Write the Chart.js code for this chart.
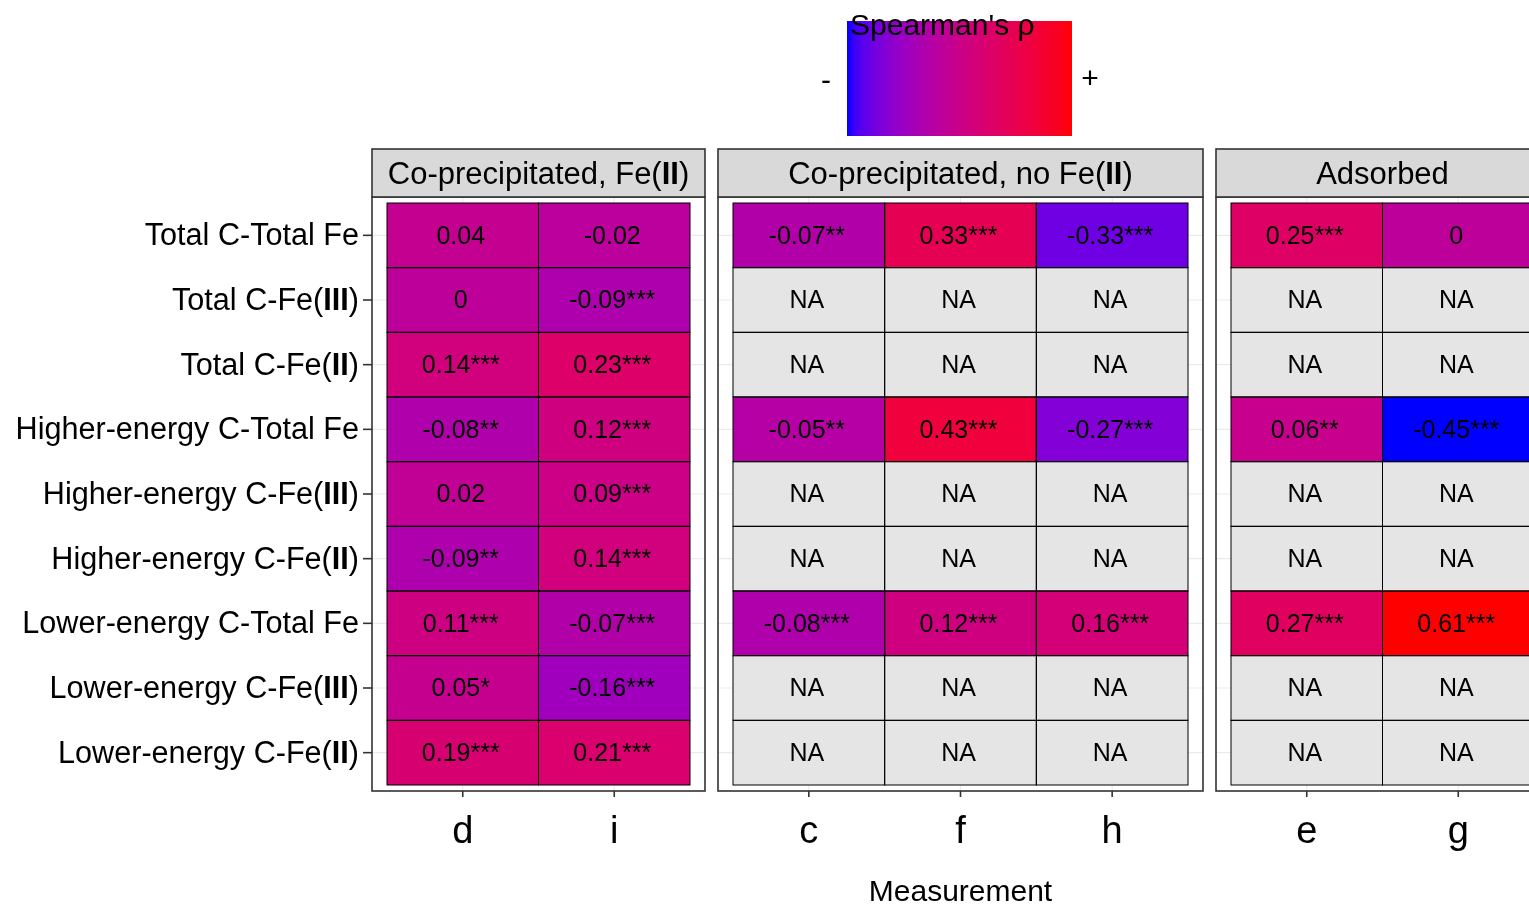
<!DOCTYPE html>
<html>
<head>
<meta charset="utf-8">
<script src="https://cdn.jsdelivr.net/npm/chart.js@4.4.0/dist/chart.umd.min.js"></script>
<style>
html, body { margin: 0; padding: 0; background: #fff; overflow: hidden; }
#wrap { position: relative; width: 1529px; height: 904px; overflow: hidden; }
canvas { position: absolute; left: 0; top: 0; }
</style>
</head>
<body>
<div id="wrap">
<canvas id="p1" width="1560" height="904"></canvas>
<canvas id="p2" width="1560" height="904"></canvas>
<canvas id="p3" width="1560" height="904"></canvas>
</div>
<script>
var rowLabels = [
  "Total C-Total Fe", "Total C-Fe(III)", "Total C-Fe(II)",
  "Higher-energy C-Total Fe", "Higher-energy C-Fe(III)", "Higher-energy C-Fe(II)",
  "Lower-energy C-Total Fe", "Lower-energy C-Fe(III)", "Lower-energy C-Fe(II)"
];
var stripLabels = ["Co-precipitated, Fe(II)", "Co-precipitated, no Fe(II)", "Adsorbed"];
var colsCoFe2 = ["d", "i"];
var colsCoNoFe2 = ["c", "f", "h"];
var colsAds = ["e", "g"];

// spearman rho per measurement (top row to bottom row), null = NA
var rho_d = [0.04, 0, 0.14, -0.08, 0.02, -0.09, 0.11, 0.05, 0.19];
var sig_d = ["", "", "***", "**", "", "**", "***", "*", "***"];
var rho_i = [-0.02, -0.09, 0.23, 0.12, 0.09, 0.14, -0.07, -0.16, 0.21];
var sig_i = ["", "***", "***", "***", "***", "***", "***", "***", "***"];
var rho_c = [-0.07, null, null, -0.05, null, null, -0.08, null, null];
var sig_c = ["**", "", "", "**", "", "", "***", "", ""];
var rho_f = [0.33, null, null, 0.43, null, null, 0.12, null, null];
var sig_f = ["***", "", "", "***", "", "", "***", "", ""];
var rho_h = [-0.33, null, null, -0.27, null, null, 0.16, null, null];
var sig_h = ["***", "", "", "***", "", "", "***", "", ""];
var rho_e = [0.25, null, null, 0.06, null, null, 0.27, null, null];
var sig_e = ["***", "", "", "**", "", "", "***", "", ""];
var rho_g = [0, null, null, -0.45, null, null, 0.61, null, null];
var sig_g = ["", "", "", "***", "", "", "***", "", ""];

var legendTitle = "Spearman's \u03c1";
var legendEnds = ["-", "+"];

var FONT = '"Liberation Sans", Arial, Helvetica, sans-serif';
var W = 1560;
var naColor = "#e5e5e5";

var allRho = [].concat(rho_d, rho_i, rho_c, rho_f, rho_h, rho_e, rho_g).filter(function (v) { return v !== null; });
var rhoMin = Math.min.apply(null, allRho);
var rhoMax = Math.max.apply(null, allRho);

// blue -> red in Lab space, like ggplot's gradient
function toLin(c) { c /= 255; return c <= 0.04045 ? c / 12.92 : Math.pow((c + 0.055) / 1.055, 2.4); }
function toSrgb(c) {
  var v = c <= 0.0031308 ? 12.92 * c : 1.055 * Math.pow(c, 1 / 2.4) - 0.055;
  return Math.round(Math.max(0, Math.min(1, v)) * 255);
}
function rgbToLab(r, g, b) {
  r = toLin(r); g = toLin(g); b = toLin(b);
  var X = (0.4124 * r + 0.3576 * g + 0.1805 * b) / 0.95047;
  var Y = 0.2126 * r + 0.7152 * g + 0.0722 * b;
  var Z = (0.0193 * r + 0.1192 * g + 0.9505 * b) / 1.08883;
  var f = function (t) { return t > 0.008856 ? Math.cbrt(t) : 7.787 * t + 16 / 116; };
  var fx = f(X), fy = f(Y), fz = f(Z);
  return [116 * fy - 16, 500 * (fx - fy), 200 * (fy - fz)];
}
function labToRgb(L, a, b) {
  var fy = (L + 16) / 116, fx = fy + a / 500, fz = fy - b / 200;
  var fi = function (t) { var t3 = t * t * t; return t3 > 0.008856 ? t3 : (t - 16 / 116) / 7.787; };
  var X = fi(fx) * 0.95047, Y = fi(fy), Z = fi(fz) * 1.08883;
  var r = 3.2406 * X - 1.5372 * Y - 0.4986 * Z;
  var g = -0.9689 * X + 1.8758 * Y + 0.0415 * Z;
  var bb = 0.0557 * X - 0.2040 * Y + 1.0570 * Z;
  return "rgb(" + toSrgb(r) + "," + toSrgb(g) + "," + toSrgb(bb) + ")";
}
var labLow = rgbToLab(0, 0, 255);
var labHigh = rgbToLab(255, 0, 0);
function rampColor(t) {
  t = Math.max(0, Math.min(1, t));
  return labToRgb(labLow[0] + (labHigh[0] - labLow[0]) * t,
                  labLow[1] + (labHigh[1] - labLow[1]) * t,
                  labLow[2] + (labHigh[2] - labLow[2]) * t);
}
function fillFor(v) {
  if (v === null) return naColor;
  return rampColor((v - rhoMin) / (rhoMax - rhoMin));
}

function drawRich(ctx, text, x, y, size, align) {
  var parts = text.split(/(I+)(?=\))/);
  var widths = parts.map(function (p, k) {
    ctx.font = (k % 2 ? "bold " : "") + size + "px " + FONT;
    return ctx.measureText(p).width;
  });
  var total = widths.reduce(function (a, b) { return a + b; }, 0);
  var cx = align === "right" ? x - total : (align === "center" ? x - total / 2 : x);
  ctx.textAlign = "left";
  ctx.textBaseline = "middle";
  ctx.fillStyle = "#000";
  parts.forEach(function (p, k) {
    ctx.font = (k % 2 ? "bold " : "") + size + "px " + FONT;
    ctx.fillText(p, cx, y);
    cx += widths[k];
  });
}

function frameOf(ca) {
  return { l: ca.left - 15, r: ca.right + 15, t: ca.top - 6, b: ca.bottom + 6 };
}

function line(ctx, x1, y1, x2, y2) {
  ctx.beginPath(); ctx.moveTo(x1, y1); ctx.lineTo(x2, y2); ctx.stroke();
}

var panelPlugin = {
  id: "panel",
  beforeDatasetsDraw: function (chart) {
    var ctx = chart.ctx, fr = frameOf(chart.chartArea);
    var xs = chart.scales.x, ys = chart.scales.y;
    ctx.save();
    ctx.strokeStyle = "#ebebeb";
    ctx.lineWidth = 1.1;
    rowLabels.forEach(function (r, i) {
      var y = ys.getPixelForValue(i);
      line(ctx, fr.l, y, fr.r, y);
    });
    chart.data.datasets.forEach(function (d, j) {
      var x = xs.getPixelForValue(j);
      line(ctx, x, fr.t, x, fr.b);
    });
    ctx.restore();
  },
  afterDatasetsDraw: function (chart, args, opts) {
    var ctx = chart.ctx, fr = frameOf(chart.chartArea);
    var xs = chart.scales.x, ys = chart.scales.y;
    ctx.save();
    // cell outlines and labels
    chart.data.datasets.forEach(function (ds, j) {
      var meta = chart.getDatasetMeta(j);
      meta.data.forEach(function (el, i) {
        var p = el.getProps(["x", "y", "base", "height"], true);
        ctx.strokeStyle = "#000";
        ctx.lineWidth = 1;
        ctx.strokeRect(p.base, p.y - p.height / 2, p.x - p.base, p.height);
        var c = el.getCenterPoint();
        var v = ds.rho[i];
        var txt = v === null ? "NA" : String(v) + ds.sig[i];
        ctx.font = "25px " + FONT;
        ctx.fillStyle = "#000";
        ctx.textAlign = "center";
        ctx.textBaseline = "middle";
        ctx.fillText(txt, c.x - 2, c.y + 1.5);
      });
    });
    // panel border
    ctx.strokeStyle = "#333";
    ctx.lineWidth = 1.6;
    ctx.strokeRect(fr.l, fr.t, fr.r - fr.l, fr.b - fr.t);
    // strip
    ctx.fillStyle = "#d9d9d9";
    ctx.fillRect(fr.l, fr.t - 48, fr.r - fr.l, 48);
    ctx.strokeRect(fr.l, fr.t - 48, fr.r - fr.l, 48);
    drawRich(ctx, opts.strip, (fr.l + fr.r) / 2, fr.t - 22, 31, "center");
    // x ticks
    chart.data.datasets.forEach(function (d, j) {
      var x = xs.getPixelForValue(j);
      line(ctx, x, fr.b, x, fr.b + 6);
    });
    // y ticks + labels on first panel only
    if (opts.yLabels) {
      rowLabels.forEach(function (r, i) {
        var y = ys.getPixelForValue(i);
        line(ctx, fr.l - 9, y, fr.l, y);
        drawRich(ctx, r, fr.l - 13, y + 1.5, 30.6, "right");
      });
    }
    ctx.restore();
  }
};

var legendPlugin = {
  id: "rhoLegend",
  afterDraw: function (chart) {
    var ctx = chart.ctx;
    var x0 = 847, y0 = 21, w = 225, h = 115;
    ctx.save();
    var grad = ctx.createLinearGradient(x0, 0, x0 + w, 0);
    for (var k = 0; k <= 30; k++) grad.addColorStop(k / 30, rampColor(k / 30));
    ctx.fillStyle = grad;
    ctx.fillRect(x0, y0, w, h);
    ctx.fillStyle = "#000";
    ctx.font = "30px " + FONT;
    ctx.textAlign = "left";
    ctx.textBaseline = "alphabetic";
    ctx.fillText(legendTitle, 850, 35);
    ctx.textAlign = "center";
    ctx.textBaseline = "middle";
    ctx.fillText(legendEnds[0], 826, 82);
    ctx.fillText(legendEnds[1], 1090, 80);
    ctx.restore();
  }
};

function makePanel(id, strip, cols, rhos, sigs, area, yLabels, xTitle, extraPlugins) {
  var datasets = cols.map(function (c, j) {
    return {
      label: c,
      data: rowLabels.map(function () { return [j - 0.5, j + 0.5]; }),
      backgroundColor: rhos[j].map(fillFor),
      borderWidth: 0,
      grouped: false,
      categoryPercentage: 1,
      barPercentage: 1,
      rho: rhos[j],
      sig: sigs[j]
    };
  });
  return new Chart(document.getElementById(id), {
    type: "bar",
    data: { labels: rowLabels, datasets: datasets },
    options: {
      indexAxis: "y",
      responsive: false,
      animation: false,
      events: [],
      layout: { padding: { left: 0, right: W - area.right, top: area.top, bottom: 0 } },
      plugins: {
        legend: { display: false },
        tooltip: { enabled: false },
        panel: { strip: strip, yLabels: yLabels }
      },
      scales: {
        y: {
          display: true,
          ticks: { display: false },
          grid: { display: false, drawTicks: false },
          border: { display: false },
          afterFit: function (s) { s.width = area.left; }
        },
        x: {
          type: "linear",
          min: -0.5,
          max: cols.length - 0.5,
          afterBuildTicks: function (s) { s.ticks = cols.map(function (c, j) { return { value: j }; }); },
          ticks: {
            callback: function (v) { return cols[v]; },
            font: { size: 38, family: FONT },
            color: "#000",
            padding: 25,
            maxRotation: 0
          },
          grid: { display: false, drawTicks: false },
          border: { display: false },
          title: {
            display: xTitle,
            text: "Measurement",
            font: { size: 30, family: FONT, lineHeight: 1 },
            color: "#000",
            padding: { top: 0, bottom: -4 }
          },
          afterFit: function (s) { s.height = 904 - area.bottom; }
        }
      }
    },
    plugins: [panelPlugin].concat(extraPlugins || [])
  });
}

makePanel("p1", stripLabels[0], colsCoFe2, [rho_d, rho_i], [sig_d, sig_i],
  { left: 387, right: 690, top: 203, bottom: 785 }, true, false);
makePanel("p2", stripLabels[1], colsCoNoFe2, [rho_c, rho_f, rho_h], [sig_c, sig_f, sig_h],
  { left: 733, right: 1188, top: 203, bottom: 785 }, false, true, [legendPlugin]);
makePanel("p3", stripLabels[2], colsAds, [rho_e, rho_g], [sig_e, sig_g],
  { left: 1231, right: 1534, top: 203, bottom: 785 }, false, false);
</script>
</body>
</html>
